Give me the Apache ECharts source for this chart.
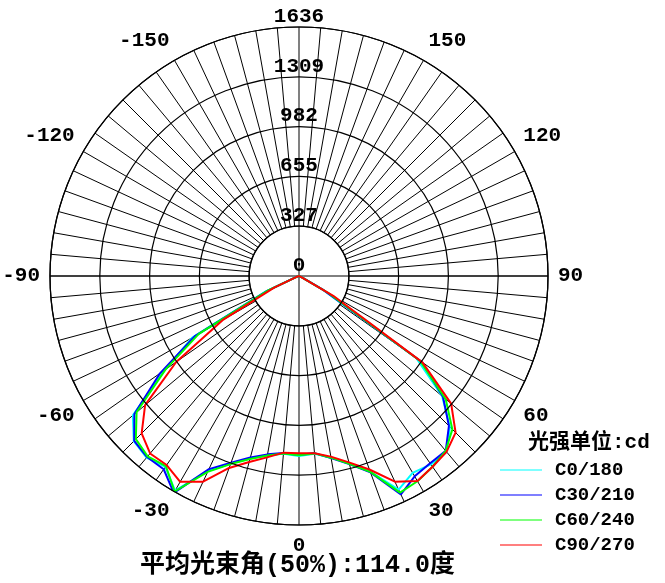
<!DOCTYPE html>
<html>
<head>
<meta charset="utf-8">
<script src="https://cdn.jsdelivr.net/npm/echarts@6/dist/echarts.min.js"></script>
<style>
html,body{margin:0;padding:0;background:#fff;}
#chart{width:665px;height:583px;}
</style>
</head>
<body>
<div id="chart"></div>
<script>
// ---- data ----
const ANGLES = [-90,-85,-80,-75,-70,-65,-60,-55,-50,-45,-40,-35,-30,-25,-20,-15,-10,-5,0,5,10,15,20,25,30,35,40,45,50,55,60,65,70,75,80,85,90];
const C0_180  = [0,0,0,5,25,240,810,1080,1425,1535,1558,1530,1629,1412,1312,1242,1196,1172,1183,1172,1212,1275,1368,1549,1493,1511,1509,1402,1228,940,180,15,0,0,0,0,0];
const C30_210 = [0,0,0,5,25,230,790,1115,1412,1531,1553,1550,1645,1400,1305,1235,1190,1168,1176,1168,1215,1279,1373,1584,1520,1502,1500,1393,1235,985,190,15,0,0,0,0,0];
const C60_240 = [0,0,0,5,20,220,760,1070,1393,1516,1547,1525,1635,1420,1315,1245,1198,1170,1178,1170,1212,1277,1370,1570,1557,1530,1499,1425,1258,970,220,20,0,0,0,0,0];
const C90_270 = [0,0,0,5,20,180,580,985,1320,1462,1522,1516,1561,1491,1342,1265,1210,1165,1165,1169,1205,1268,1353,1491,1556,1530,1508,1455,1305,990,260,20,0,0,0,0,0];
const SERIES_NAMES = ['C0/180','C30/210','C60/240','C90/270'];
const SERIES_COLORS = ['#00ffff','#0000ff','#00ff00','#ff0000'];
const RMAX = 1636;
const RADIAL_LABELS = ['0','327','655','982','1309','1636'];
const ANGLE_LABELS = [-150,-120,-90,-60,-30,0,30,60,90,120,150];
const TITLE = '平均光束角(50%):114.0度';
const UNIT = '光强单位:cd';

const MONO = "'Liberation Mono','Noto Sans CJK SC',monospace";
const CX = 299, CY = 276, R = 249, R0 = 50;

const spokeColors = [];
for (let i = 0; i < 36; i++) spokeColors.push(i === 0 ? 'transparent' : '#000');

const allData = [C0_180, C30_210, C60_240, C90_270];
const series = allData.map((vals, k) => ({
  name: SERIES_NAMES[k],
  type: 'line',
  coordinateSystem: 'polar',
  polarIndex: 1,
  symbol: 'none',
  clip: false,
  smooth: false,
  lineStyle: { color: SERIES_COLORS[k], width: 2 },
  itemStyle: { color: SERIES_COLORS[k] },
  data: vals.map((v, i) => [v, ANGLES[i]])
}));

const chart = echarts.init(document.getElementById('chart'), null, {renderer: 'canvas'});
chart.setOption({
  animation: false,
  backgroundColor: '#fff',
  title: [
    { text: TITLE, left: 135, top: 548,
      textStyle: { fontFamily: MONO, fontWeight: 'bold', fontSize: 25, color: '#000' } },
    { text: UNIT, left: 523, top: 427,
      textStyle: { fontFamily: MONO, fontWeight: 'bold', fontSize: 21, color: '#000' } }
  ],
  legend: {
    orient: 'vertical',
    left: 495, top: 455,
    itemWidth: 42, itemHeight: 14, itemGap: 5,
    data: SERIES_NAMES.map((n, k) => ({ name: n, icon: 'path://M0,6.5L42,6.5L42,7.5L0,7.5Z', itemStyle: { color: SERIES_COLORS[k] } })),
    textStyle: { fontFamily: MONO, fontWeight: 'bold', fontSize: 19, color: '#000', lineHeight: 20, padding: [0,0,0,8] }
  },
  polar: [
    { center: [CX, CY], radius: [R0, R] },
    { center: [CX, CY], radius: [0, R] },
    { center: [CX, CY], radius: [0, R] }
  ],
  angleAxis: [
    { polarIndex: 0, type: 'value', min: -180, max: 180, interval: 5, startAngle: 90, clockwise: false,
      axisLine: { show: true, lineStyle: { color: '#000', width: 1.2 } },
      axisTick: { show: false },
      splitLine: { show: true, lineStyle: { color: spokeColors, width: 1 } },
      axisLabel: { show: true, margin: 10, color: '#000', fontFamily: MONO, fontWeight: 'bold', fontSize: 21,
        formatter: v => (ANGLE_LABELS.indexOf(Math.round(v)) >= 0 ? String(Math.round(v)) : '') }
    },
    { polarIndex: 1, type: 'value', min: -180, max: 180, interval: 90, startAngle: 90, clockwise: false,
      axisLine: { show: false }, axisTick: { show: false }, axisLabel: { show: false },
      splitLine: { show: true, lineStyle: { color: ['transparent', '#000'], width: 1 } }
    },
    { polarIndex: 2, type: 'value', min: -180, max: 180, interval: 180, startAngle: 90, clockwise: false,
      axisLine: { show: false }, axisTick: { show: false }, axisLabel: { show: false },
      splitLine: { show: true, lineStyle: { color: '#808080', width: 2 } }
    }
  ],
  radiusAxis: [
    { polarIndex: 0, type: 'value', min: 0, max: RMAX, show: true,
      axisLine: { show: false }, axisTick: { show: false }, axisLabel: { show: false }, splitLine: { show: false } },
    { polarIndex: 1, type: 'value', min: 0, max: RMAX, interval: RMAX / 5,
      axisLine: { show: false }, axisTick: { show: false },
      splitLine: { show: true, lineStyle: { color: '#000', width: 1.2 } },
      axisLabel: { show: true, margin: 0, align: 'center', verticalAlign: 'bottom', color: '#000',
        fontFamily: MONO, fontWeight: 'bold', fontSize: 21,
        formatter: v => RADIAL_LABELS[Math.round(v / (RMAX / 5))] },
      z: 5
    },
    { polarIndex: 2, type: 'value', min: 0, max: RMAX,
      axisLine: { show: false }, axisTick: { show: false }, axisLabel: { show: false }, splitLine: { show: false } }
  ],
  series: series
});
</script>
</body>
</html>
